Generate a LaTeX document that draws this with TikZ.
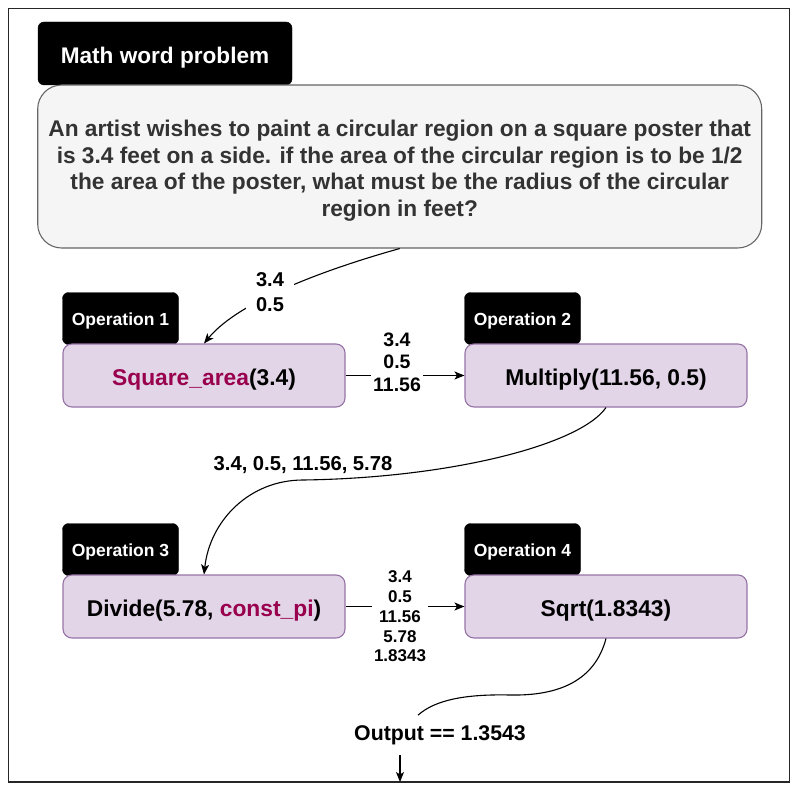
\documentclass[tikz,border=0pt]{standalone}
\usepackage{fontspec}
\setmainfont{Liberation Sans}
\usetikzlibrary{arrows.meta,calc}
\definecolor{opfill}{HTML}{E1D5E7}
\definecolor{opline}{HTML}{9673A6}
\definecolor{qfill}{HTML}{F5F5F5}
\definecolor{qline}{HTML}{666666}
\definecolor{qtext}{HTML}{333333}
\definecolor{fnname}{RGB}{153,0,77}
\begin{document}
\begin{tikzpicture}[x=1pt,y=-1pt,
  tagbox/.style={fill=black, draw=black, rounded corners=6pt, text=white,
    font=\fontsize{17.5}{20}\selectfont\bfseries, minimum width=116pt,
    minimum height=52pt, inner sep=0pt, text height=17.4pt, text depth=3pt},
  opbox/.style={fill=opfill, draw=opline, line width=1.1pt, rounded corners=9pt,
    minimum width=282pt, minimum height=63pt, inner sep=0pt,
    text height=23pt, text depth=4pt,
    font=\fontsize{22.8}{26}\selectfont\bfseries},
  link/.style={line width=1.1pt},
  flow/.style={link, -{Stealth[length=10pt,width=8pt,inset=2.5pt]}},
  vals/.style={fill=white, align=center, inner sep=2pt,
    font=\fontsize{17}{19.75}\selectfont\bfseries}]
\useasboundingbox (0,0) rectangle (798,797);

% outer frame
\draw[line width=1.3pt, black!85] (8.3,8.3) rectangle (789.5,782);

% problem statement
\node[tagbox, minimum width=254pt, minimum height=63pt, text height=24pt, text depth=4.4pt,
  font=\fontsize{22.6}{26}\selectfont\bfseries] (qtag) at (165,53.5) {Math word problem};
\node[fill=qfill, draw=qline, line width=1.1pt, rounded corners=24pt,
  minimum width=724pt, minimum height=163pt, inner sep=0pt, align=center,
  text=qtext, font=\fontsize{22.7}{26.7}\selectfont\bfseries] (q) at (399.7,166.5)
  {\rule{0pt}{25pt}An artist wishes to paint a circular region on a square poster that\\
   is 3.4 feet on a side. if the area of the circular region is to be 1/2\\
   the area of the poster, what must be the radius of the circular\\
   region in feet?};

% operation tags
\node[tagbox] (t1) at (120.5,318.5) {Operation 1};
\node[tagbox] (t2) at (522.5,318.5) {Operation 2};
\node[tagbox] (t3) at (120.5,549.5) {Operation 3};
\node[tagbox] (t4) at (522.5,549.5) {Operation 4};

% operations
\node[opbox] (op1) at (204,375.5) {\textcolor{fnname}{Square\_area}(3.4)};
\node[opbox] (op2) at (606,375.5) {Multiply(11.56, 0.5)};
\node[opbox] (op3) at (204,606.5) {Divide(5.78, \textcolor{fnname}{const\_pi})};
\node[opbox] (op4) at (606,606.5) {Sqrt(1.8343)};

% result
\node[inner xsep=2pt, inner ysep=10pt, font=\fontsize{21.3}{25}\selectfont\bfseries]
  (out) at (440,735) {Output == 1.3543};
\coordinate (sink) at (400,782);

% connectors
\draw[flow] (q.south) .. controls (330,268) and (240,300) .. (op1.north);
\draw[flow] (op1.east) -- (op2.west);
\draw[flow] (op2.south) .. controls (580,445) and (450,478) .. (303,480)
  .. controls (250,480) and (210,520) .. (op3.north);
\draw[flow] (op3.east) -- (op4.west);
\draw[link] (op4.south) .. controls (595,680) and (560,696) .. (510,695)
  .. controls (465,694) and (435,700) .. ([xshift=-22pt]out.north);
\draw[flow] ([xshift=-40pt]out.south) -- (sink);

% values carried along each connector
\node[vals, inner xsep=10pt, font=\fontsize{20}{25}\selectfont\bfseries] (v1) at (270,292.5) {3.4\\0.5};
\node[vals, font=\fontsize{19.5}{22.6}\selectfont\bfseries] (v2) at (397,362) {3.4\\0.5\\11.56};
\node[font=\fontsize{20.2}{24}\selectfont\bfseries, inner sep=1pt] (v3) at (303,465) {3.4, 0.5, 11.56, 5.78};
\node[vals] (v4) at (400,616.5) {3.4\\0.5\\11.56\\5.78\\1.8343};
\end{tikzpicture}
\end{document}
